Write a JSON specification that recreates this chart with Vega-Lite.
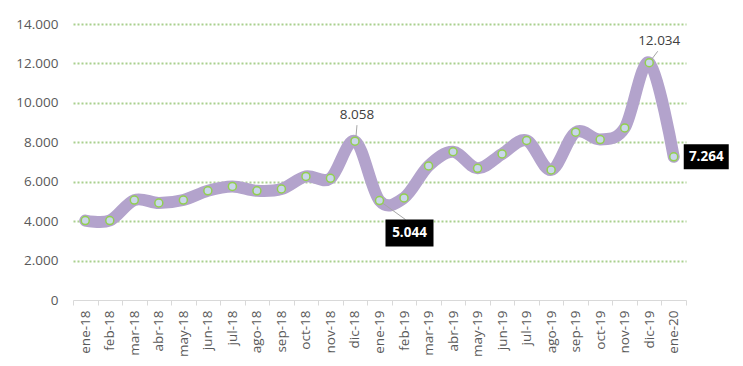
{
  "$schema": "https://vega.github.io/schema/vega-lite/v6.json",
  "width": 613,
  "height": 276,
  "autosize": {"type": "none"},
  "padding": {"left": 73, "top": 24, "right": 57, "bottom": 66},
  "background": "white",
  "config": {
    "locale": {"number": {"decimal": ",", "thousands": ".", "grouping": [3], "currency": ["", " €"]}},
    "view": {"stroke": null},
    "font": "Open Sans"
  },
  "data": {
    "values": [
      {"mes": "ene-18", "valor": 4030},
      {"mes": "feb-18", "valor": 4030},
      {"mes": "mar-18", "valor": 5070},
      {"mes": "abr-18", "valor": 4920},
      {"mes": "may-18", "valor": 5070},
      {"mes": "jun-18", "valor": 5540},
      {"mes": "jul-18", "valor": 5760},
      {"mes": "ago-18", "valor": 5540},
      {"mes": "sep-18", "valor": 5630},
      {"mes": "oct-18", "valor": 6270},
      {"mes": "nov-18", "valor": 6170},
      {"mes": "dic-18", "valor": 8058},
      {"mes": "ene-19", "valor": 5044},
      {"mes": "feb-19", "valor": 5180},
      {"mes": "mar-19", "valor": 6800},
      {"mes": "abr-19", "valor": 7520},
      {"mes": "may-19", "valor": 6680},
      {"mes": "jun-19", "valor": 7410},
      {"mes": "jul-19", "valor": 8090},
      {"mes": "ago-19", "valor": 6600},
      {"mes": "sep-19", "valor": 8510},
      {"mes": "oct-19", "valor": 8140},
      {"mes": "nov-19", "valor": 8730},
      {"mes": "dic-19", "valor": 12034},
      {"mes": "ene-20", "valor": 7264}
    ]
  },
  "encoding": {
    "x": {
      "field": "mes",
      "type": "ordinal",
      "sort": null,
      "scale": {"type": "band", "paddingInner": 0, "paddingOuter": 0},
      "axis": {
        "title": null,
        "labelAngle": 270,
        "labelFont": "Open Sans",
        "labelFontSize": 13.5,
        "labelColor": "#595959",
        "labelPadding": 5,
        "domainColor": "#d9d9d9",
        "domainWidth": 1,
        "tickColor": "#d9d9d9",
        "tickSize": 5,
        "tickBand": "extent",
        "grid": false,
        "zindex": 1
      }
    },
    "y": {
      "field": "valor",
      "type": "quantitative",
      "scale": {"domain": [0, 14000], "nice": false},
      "axis": {
        "title": null,
        "values": [0, 2000, 4000, 6000, 8000, 10000, 12000, 14000],
        "format": ",.0f",
        "labelFont": "Open Sans",
        "labelFontSize": 13.5,
        "labelColor": "#595959",
        "labelPadding": 15,
        "domain": false,
        "ticks": false,
        "grid": true,
        "gridColor": "#a9d08e",
        "gridDash": [2, 2],
        "gridWidth": 2,
        "gridOpacity": {"condition": {"test": "datum.value === 0", "value": 0}, "value": 1}
      }
    }
  },
  "layer": [
    {
      "mark": {"type": "line", "interpolate": "cardinal", "color": "#b3a3cc", "strokeWidth": 12, "strokeCap": "round", "strokeJoin": "round"}
    },
    {
      "transform": [{"filter": "datum.mes === 'dic-18'"}],
      "mark": {"type": "point", "shape": "M1,-4.5L2,-16", "size": 4, "filled": false, "stroke": "#a6a6a6", "strokeWidth": 1, "opacity": 1}
    },
    {
      "transform": [{"filter": "datum.mes === 'dic-19'"}],
      "mark": {"type": "point", "shape": "M2.5,-3.5L8.5,-11.5", "size": 4, "filled": false, "stroke": "#a6a6a6", "strokeWidth": 1, "opacity": 1}
    },
    {
      "transform": [{"filter": "datum.mes === 'ene-19'"}],
      "mark": {"type": "point", "shape": "M3,2.5L26,19", "size": 4, "filled": false, "stroke": "#a6a6a6", "strokeWidth": 1, "opacity": 1}
    },
    {
      "mark": {"type": "point", "shape": "circle", "filled": true, "fill": "#c9d6ea", "stroke": "#92d050", "strokeWidth": 1.5, "size": 64, "opacity": 1}
    },
    {
      "transform": [{"filter": "datum.mes === 'ene-19'"}],
      "mark": {"type": "point", "shape": "M6,19H54V46H6Z", "size": 4, "filled": true, "fill": "black", "strokeWidth": 0, "opacity": 1}
    },
    {
      "transform": [{"filter": "datum.mes === 'ene-20'"}],
      "mark": {"type": "point", "shape": "M10,-12.5H55V12.5H10Z", "size": 4, "filled": true, "fill": "black", "strokeWidth": 0, "opacity": 1}
    },
    {
      "transform": [{"filter": "datum.mes === 'ene-19'"}],
      "mark": {"type": "text", "dx": 30, "dy": 32.5, "align": "center", "baseline": "middle", "font": "Open Sans", "fontSize": 13.5, "fontWeight": "bold", "color": "white"},
      "encoding": {"text": {"field": "valor", "type": "quantitative", "format": ",.0f"}}
    },
    {
      "transform": [{"filter": "datum.mes === 'ene-20'"}],
      "mark": {"type": "text", "dx": 32.5, "dy": 0, "align": "center", "baseline": "middle", "font": "Open Sans", "fontSize": 13.5, "fontWeight": "bold", "color": "white"},
      "encoding": {"text": {"field": "valor", "type": "quantitative", "format": ",.0f"}}
    },
    {
      "transform": [{"filter": "datum.mes === 'dic-18'"}],
      "mark": {"type": "text", "dx": 2, "dy": -26, "align": "center", "baseline": "middle", "font": "Open Sans", "fontSize": 13.5, "color": "#404040"},
      "encoding": {"text": {"field": "valor", "type": "quantitative", "format": ",.0f"}}
    },
    {
      "transform": [{"filter": "datum.mes === 'dic-19'"}],
      "mark": {"type": "text", "dx": 10, "dy": -22, "align": "center", "baseline": "middle", "font": "Open Sans", "fontSize": 13.5, "color": "#404040"},
      "encoding": {"text": {"field": "valor", "type": "quantitative", "format": ",.0f"}}
    }
  ]
}
